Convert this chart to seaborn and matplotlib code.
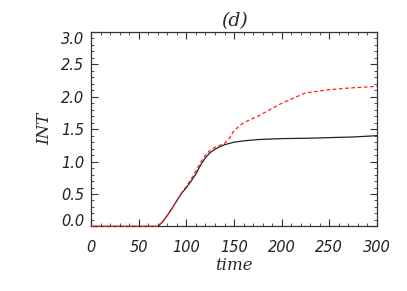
import numpy as np
import pandas as pd
import matplotlib
matplotlib.use('Agg')
import matplotlib.pyplot as plt
import matplotlib.transforms as mtransforms
import seaborn as sns
from matplotlib.ticker import MultipleLocator

# values
time = [0, 60, 70, 75, 80, 85, 90, 95, 100, 105, 110, 115, 120, 125, 130, 135, 140,
        145, 150, 160, 175, 200, 225, 250, 275, 300]
int_solid = [0.0, 0.0, 0.0, 0.07, 0.17, 0.28, 0.40, 0.51, 0.60, 0.70, 0.81, 0.95, 1.06, 1.14,
             1.19, 1.23, 1.26, 1.28, 1.30, 1.32, 1.34, 1.355, 1.36, 1.37, 1.38, 1.40]
int_dashed = [0.0, 0.0, 0.0, 0.07, 0.17, 0.28, 0.40, 0.52, 0.62, 0.73, 0.86, 0.99, 1.10, 1.18,
              1.22, 1.25, 1.28, 1.36, 1.48, 1.60, 1.70, 1.90, 2.06, 2.11, 2.14, 2.16]
yticks = [0.0, 0.5, 1.0, 1.5, 2.0, 2.5, 3.0]

df = pd.DataFrame({
    'time': time * 2,
    'INT': int_solid + int_dashed,
    'run': ['solid'] * len(time) + ['dashed'] * len(time),
})

sns.set_style('ticks')
plt.rcParams['font.family'] = ['DejaVu Sans']

fig = plt.figure(figsize=(4.07, 2.91), dpi=100)
ax = fig.add_axes([0.224, 0.222, 0.702, 0.668])

sns.lineplot(data=df, x='time', y='INT', hue='run', style='run',
             palette={'solid': '#222222', 'dashed': '#ff2020'},
             dashes={'solid': '', 'dashed': (3, 2)}, linewidth=0.9,
             legend=False, ax=ax)
for ln in ax.lines:
    ln.set_zorder(3)
    ln.set_clip_on(False)

ax.set_xlim(0, 300)
ax.set_ylim(0, 3.0)
ax.xaxis.set_major_locator(MultipleLocator(50))
ax.xaxis.set_minor_locator(MultipleLocator(10))
ax.set_yticks(yticks)
ax.set_yticklabels([f'{v:.1f}' for v in yticks])
ax.yaxis.set_minor_locator(MultipleLocator(0.1))

ax.tick_params(which='both', direction='in', top=True, right=True, colors='#333333',
               labelcolor='#222222', labelsize=10.5)
ax.tick_params(which='major', length=5, width=0.8)
ax.tick_params(which='minor', length=2.5, width=0.6)
ax.tick_params(axis='x', pad=10)
ax.tick_params(axis='y', pad=5)

# IDL-style: end labels are kept inside the axis range
ylabs = ax.get_yticklabels()
up = mtransforms.ScaledTranslation(0, 4.5 / 72, fig.dpi_scale_trans)
down = mtransforms.ScaledTranslation(0, -4.5 / 72, fig.dpi_scale_trans)
ylabs[0].set_transform(ylabs[0].get_transform() + up)
ylabs[-1].set_transform(ylabs[-1].get_transform() + down)
for lab in ax.get_xticklabels() + ylabs:
    lab.set_style('italic')

for s in ax.spines.values():
    s.set_color('#333333')
    s.set_linewidth(0.9)

ax.set_xlabel('time', fontsize=12, style='italic', family='DejaVu Serif', labelpad=1)
ax.set_ylabel('INT', fontsize=12, style='italic', family='DejaVu Serif', labelpad=6)
ax.set_title('(d)', fontsize=13.5, style='italic', family='DejaVu Serif', pad=4)

fig.savefig('out.png', dpi=100)
